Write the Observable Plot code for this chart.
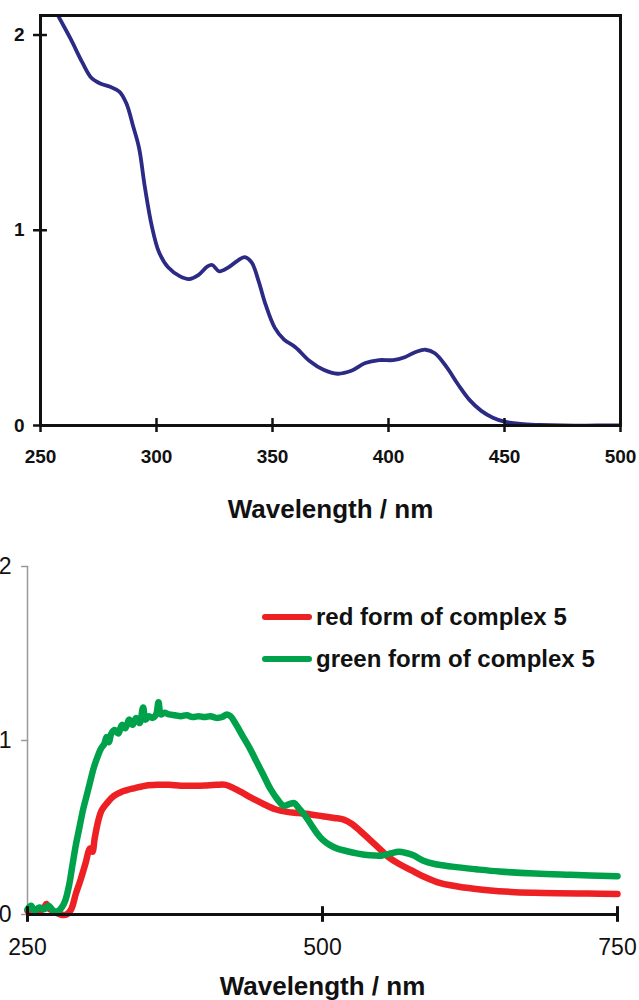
<!DOCTYPE html>
<html>
<head>
<meta charset="utf-8">
<script src="https://cdn.jsdelivr.net/npm/d3@7"></script>
<script src="https://cdn.jsdelivr.net/npm/@observablehq/plot@0.6"></script>
<style>
  body { margin: 0; background: #fff; }
  #wrap { position: relative; width: 639px; height: 1000px; overflow: hidden; background: #fff;
          font-family: "Liberation Sans", Arial, sans-serif; }
  #topChart, #bottomChart { position: absolute; left: 0; }
  #topChart { top: 0; }
  #bottomChart { top: 530px; }
  svg g[aria-label="x-axis label"] text { font-size: 26px; font-weight: bold; }
  .legend { position: absolute; left: 262px; top: 596px; font-weight: bold; font-size: 24px; color: #111; }
  .legend .row { display: flex; align-items: center; height: 42px; }
  .legend .sw { width: 50px; height: 6px; border-radius: 3px; margin-right: 4px; }
</style>
</head>
<body>
<div id="wrap">
  <div id="topChart"></div>
  <div id="bottomChart"></div>
  <div class="legend" id="legend"></div>
</div>
<script>
// ---- Top panel: absorbance spectrum (blue) ----
const topWavelength = [255, 258, 263, 268, 272, 276, 280, 284, 287, 290, 292.5, 295, 298, 301, 305, 310, 314, 318, 322, 324, 327, 331, 335, 338, 341, 344, 347, 351, 355, 360, 366, 372, 378, 384, 390, 396, 402, 407, 412, 416, 420, 425, 430, 435, 440, 445, 450, 457, 465, 475, 490, 500];
const topAbsorbance = [2.16, 2.09, 1.98, 1.86, 1.78, 1.75, 1.735, 1.71, 1.65, 1.53, 1.42, 1.22, 1.02, 0.89, 0.81, 0.765, 0.75, 0.77, 0.815, 0.822, 0.79, 0.81, 0.845, 0.862, 0.835, 0.74, 0.62, 0.50, 0.44, 0.40, 0.33, 0.285, 0.265, 0.28, 0.32, 0.335, 0.335, 0.35, 0.378, 0.388, 0.37, 0.30, 0.21, 0.13, 0.075, 0.04, 0.02, 0.008, 0.003, 0.0, 0.0, 0.0];
const topXTicks = [250, 300, 350, 400, 450, 500];
const topYTicks = [0, 1, 2];

// ---- Bottom panel: red and green forms of complex 5 ----
const redWavelength = [250, 255, 260, 264, 266, 268, 272, 278, 283, 287, 291, 295, 299, 303, 305, 307, 310, 313, 318, 323, 330, 340, 350, 360, 370, 380, 390, 400, 410, 418, 425, 432, 440, 450, 460, 470, 480, 490, 500, 510, 518, 525, 532, 540, 548, 556, 565, 575, 585, 600, 620, 640, 660, 680, 700, 725, 750];
const redValue = [0.02, 0.03, 0.02, 0.04, 0.06, 0.035, 0.02, 0.0, 0.0, 0.03, 0.12, 0.20, 0.29, 0.38, 0.36, 0.44, 0.54, 0.60, 0.645, 0.68, 0.705, 0.725, 0.74, 0.745, 0.745, 0.74, 0.74, 0.742, 0.745, 0.745, 0.725, 0.70, 0.67, 0.635, 0.605, 0.59, 0.583, 0.575, 0.565, 0.555, 0.545, 0.52, 0.48, 0.43, 0.38, 0.33, 0.29, 0.255, 0.22, 0.18, 0.155, 0.14, 0.13, 0.125, 0.122, 0.12, 0.118];
const greenWavelength = [250, 253, 256, 260, 264, 268, 272, 276, 279, 282, 285, 288, 291, 294, 297, 300, 303, 306, 309, 312, 315, 317, 319, 321, 324, 327, 330, 333, 336, 339, 342, 345, 348, 350, 353, 356, 359, 361, 363, 366, 370, 375, 380, 385, 390, 395, 400, 405, 410, 415, 419, 422, 426, 432, 438, 444, 450, 456, 462, 467, 472, 476, 480, 485, 490, 495, 500, 506, 512, 520, 530, 540, 550, 557, 565, 570, 577, 585, 595, 610, 630, 650, 680, 710, 750];
const greenValue = [0.03, 0.05, 0.02, 0.04, 0.03, 0.05, 0.02, 0.02, 0.04, 0.08, 0.16, 0.28, 0.40, 0.50, 0.60, 0.68, 0.76, 0.84, 0.90, 0.95, 0.98, 1.02, 0.99, 1.04, 1.06, 1.04, 1.09, 1.07, 1.12, 1.09, 1.13, 1.10, 1.19, 1.12, 1.14, 1.13, 1.15, 1.22, 1.15, 1.16, 1.15, 1.145, 1.14, 1.145, 1.135, 1.14, 1.135, 1.14, 1.13, 1.135, 1.15, 1.14, 1.10, 1.03, 0.96, 0.88, 0.80, 0.72, 0.66, 0.625, 0.635, 0.64, 0.61, 0.57, 0.52, 0.47, 0.43, 0.40, 0.38, 0.365, 0.35, 0.34, 0.338, 0.35, 0.36, 0.355, 0.34, 0.31, 0.29, 0.275, 0.26, 0.247, 0.235, 0.228, 0.22];
const bottomXTicks = [250, 500, 750];
const bottomYTicks = [0, 1, 2];
const seriesNames = ["red form of complex 5", "green form of complex 5"];
const seriesColors = ["#ed2024", "#00a14b"];

const blueData = topWavelength.map((w, i) => ({w, a: topAbsorbance[i]}));
const redData = redWavelength.map((w, i) => ({w, a: redValue[i]}));
const greenData = greenWavelength.map((w, i) => ({w, a: greenValue[i]}));

const font = "Liberation Sans, Arial, sans-serif";

const topPlot = Plot.plot({
  width: 639, height: 530,
  marginLeft: 40, marginRight: 19, marginTop: 15, marginBottom: 105,
  style: {fontFamily: font, background: "transparent", color: "#111", overflow: "visible"},
  x: {domain: [250, 500]},
  y: {domain: [0, 2.1]},
  marks: [
    Plot.line(blueData, {x: "w", y: "a", stroke: "#2b2a85", strokeWidth: 3.8, curve: "catmull-rom", clip: true}),
    Plot.frame({stroke: "#111", strokeWidth: 3}),
    Plot.ruleX(topXTicks, {y1: -0.036, y2: 0.036, stroke: "#111", strokeWidth: 2.5}),
    Plot.ruleY(topYTicks, {x1: 247, x2: 253, stroke: "#111", strokeWidth: 2.5}),
    Plot.axisX({ticks: topXTicks, tickSize: 0, tickPadding: 24, fontSize: 19, fontWeight: "bold",
                label: "Wavelength / nm", labelArrow: "none", labelAnchor: "center", labelOffset: 92}),
    Plot.axisY({ticks: topYTicks, tickSize: 0, tickPadding: 16, fontSize: 19, fontWeight: "bold", label: null, tickFormat: d3.format("d")})
  ]
});
document.getElementById("topChart").append(topPlot);

const bottomPlot = Plot.plot({
  width: 639, height: 470,
  marginLeft: 27, marginRight: 22, marginTop: 36, marginBottom: 86,
  style: {fontFamily: font, background: "transparent", color: "#111", overflow: "visible"},
  x: {domain: [250, 750]},
  y: {domain: [0, 2]},
  marks: [
    Plot.ruleX([250], {y1: 0, y2: 2, stroke: "#9a9a9a", strokeWidth: 1.5}),
    Plot.ruleY(bottomYTicks, {x1: 245, x2: 251, stroke: "#9a9a9a", strokeWidth: 1.5}),
    Plot.line(redData, {x: "w", y: "a", stroke: seriesColors[0], strokeWidth: 6.5, curve: "catmull-rom", strokeLinecap: "round"}),
    Plot.line(greenData, {x: "w", y: "a", stroke: seriesColors[1], strokeWidth: 6.5, curve: "catmull-rom", strokeLinecap: "round"}),
    Plot.ruleY([0], {x1: 250, x2: 750, stroke: "#111", strokeWidth: 3}),
    Plot.ruleX(bottomXTicks, {y1: -0.045, y2: 0.045, stroke: "#111", strokeWidth: 3}),
    Plot.axisX({ticks: bottomXTicks, tickSize: 0, tickPadding: 24, fontSize: 23,
                label: "Wavelength / nm", labelArrow: "none", labelAnchor: "center", labelOffset: 80}),
    Plot.axisY({ticks: bottomYTicks, tickSize: 0, tickPadding: 16, fontSize: 23, label: null, tickFormat: d3.format("d")})
  ]
});
document.getElementById("bottomChart").append(bottomPlot);

const legend = document.getElementById("legend");
seriesNames.forEach((name, i) => {
  const row = document.createElement("div");
  row.className = "row";
  const sw = document.createElement("div");
  sw.className = "sw";
  sw.style.background = seriesColors[i];
  const t = document.createElement("span");
  t.textContent = name;
  row.append(sw, t);
  legend.append(row);
});
</script>
</body>
</html>
